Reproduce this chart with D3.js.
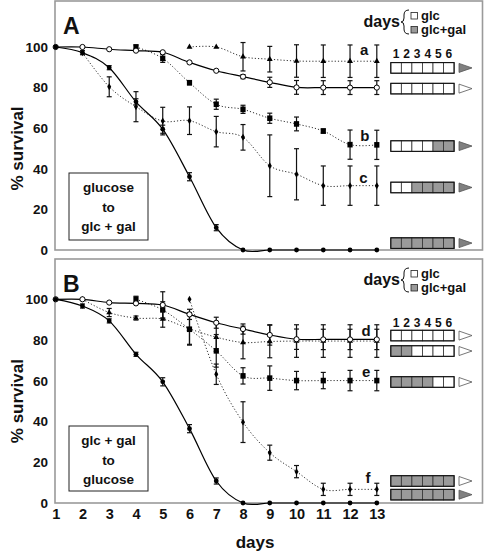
<!DOCTYPE html>
<html><head><meta charset="utf-8">
<script src="https://cdn.jsdelivr.net/npm/d3@7"></script>
<style>
body{margin:0;background:#fff;}
svg text{font-family:"Liberation Sans",Arial,Helvetica,sans-serif;font-weight:bold;fill:#111;}
</style></head>
<body><svg id="c" width="486" height="552"></svg>
<script>
const days = [1,2,3,4,5,6,7,8,9,10,11,12,13];
const yTicks = [0,20,40,60,80,100];

// Panel A series (value per day, null = absent), errors
const A_glcDecline = [100,97.2,89.8,73,59.5,36.1,11,0,0,0,0,0,0];
const A_glcDeclineErr = [0,1,1,1.5,2,2,1.5,0,0,0,0,0,0];
const A_glcOpen = [100,100,98.9,98.2,97.4,92.4,88.3,85.4,82.6,80.1,80,80,80];
const A_glcOpenErr = [0,0,0,0,0,0,0,1,2.5,3.4,3.4,3.4,3.4];
const A_a = [null,null,null,null,null,100,100,95.2,94,93.1,93,93,93];
const A_aErr = [0,0,0,0,0,0,0,7,6.3,8,8,8,8];
const A_b = [null,null,null,100,94.4,82.4,71.8,69.3,64.9,62.1,58.6,51.9,51.8];
const A_bErr = [0,0,0,1,2,1,2.5,2,2.5,3.4,1,7.2,7.2];
const A_c = [null,97.2,80.4,70.6,63.5,63.7,58.3,55.5,41.5,37.3,31.7,31.7,31.7];
const A_cErr = [0,0,4.9,7.4,6.8,6.8,7.5,6.3,15.2,12.6,9.7,9.7,9.7];

// Panel B series
const B_glcDecline = [100,96.7,89.4,73,59.5,36.5,10.8,0,0,0,0,0,0];
const B_glcDeclineErr = [0,1,1,1,2,2,1.5,0,0,0,0,0,0];
const B_glcOpen = [100,100,98.4,98,97.2,92.6,88.5,85.4,82.5,80.4,80.3,80.3,80.3];
const B_glcOpenErr = [0,0,0,0,6.5,2.5,2.7,2.5,5,5,5,5,5];
const B_d = [null,100,93.5,90.8,90.3,85.5,81.4,78.8,79.3,79.5,79.5,79.5,79.5];
const B_dErr = [0,0,2,1,4,8,7,8,8,8,8,8,8];
const B_e = [null,null,null,100,94.8,85.3,74.7,62.4,61.3,60.1,60.1,60.1,60.1];
const B_eErr = [0,0,0,1.5,4,7.4,8,4,6,4.5,4,5,5];
const B_f = [null,null,null,null,null,100,63.2,39.7,24.7,15.4,6.7,6.7,6.7];
const B_fErr = [0,0,0,0,0,0,5,10,3.7,3,3,3,3];

// legend rows: cell pattern (1 = glc+gal gray), triangle fill (1 = gray)
const A_rows = [
  {cells:[0,0,0,0,0,0], tri:1, v:89.7},
  {cells:[0,0,0,0,0,0], tri:0, v:79.5},
  {cells:[0,0,0,0,1,1], tri:1, v:51.2},
  {cells:[0,0,1,1,1,1], tri:1, v:30.8},
  {cells:[1,1,1,1,1,1], tri:1, v:3.4}
];
const B_rows = [
  {cells:[0,0,0,0,0,0], tri:0, v:82.2},
  {cells:[1,1,0,0,0,0], tri:0, v:74.6},
  {cells:[1,1,1,1,0,0], tri:0, v:59.4},
  {cells:[1,1,1,1,1,1], tri:0, v:10.8},
  {cells:[1,1,1,1,1,1], tri:1, v:4.1}
];
const A_labels = [{t:"a",d:12.53,v:96},{t:"b",d:12.55,v:53.7},{t:"c",d:12.5,v:33}];
const B_labels = [{t:"d",d:12.6,v:81.8},{t:"e",d:12.6,v:62},{t:"f",d:12.67,v:10}];

const svg = d3.select("#c");
const x = d3.scaleLinear().domain([1,13]).range([55.7,376.8]);
const GRAY = "#9a9a9a";

function panel(cfg){
  const y = d3.scaleLinear().domain([0,100]).range([cfg.y0, cfg.y100]);
  const g = svg.append("g");
  // frame
  g.append("rect").attr("x",55).attr("y",cfg.top).attr("width",427.5).attr("height",cfg.y0-cfg.top)
    .attr("fill","none").attr("stroke",GRAY).attr("stroke-width",1.6);
  // y axis
  const ya = d3.axisLeft(y).tickValues(yTicks).tickSize(0).tickPadding(7);
  const yg = g.append("g").attr("transform","translate(55,0)").call(ya);
  yg.select(".domain").remove();
  yg.selectAll("text").style("font-size","13.5px").attr("fill","#111");
  // y label
  g.append("text").attr("transform",`translate(23,${(cfg.y0+cfg.y100)/2}) rotate(-90)`)
    .attr("text-anchor","middle").style("font-size","17px").text("% survival");
  // panel letter
  g.append("text").attr("x",63).attr("y",cfg.top+33).style("font-size","23px").text(cfg.letter);
  // text box
  const tb = g.append("g");
  tb.append("rect").attr("x",69).attr("y",cfg.boxTop).attr("width",79).attr("height",cfg.boxH)
    .attr("fill","#fff").attr("stroke","#222").attr("stroke-width",1);
  cfg.boxLines.forEach((s,i)=>{
    tb.append("text").attr("x",108.5).attr("y",cfg.boxTop+19+i*19.5).attr("text-anchor","middle")
      .style("font-size","13.5px").text(s);
  });

  const line = d3.line().defined(d=>d.v!==null).x(d=>x(d.d)).y(d=>y(d.v)).curve(d3.curveCardinal.tension(0));
  function series(vals, errs, marker, dotted){
    const data = days.map((d,i)=>({d, v:vals[i], e:errs[i]}));
    g.append("path").datum(data).attr("d",line).attr("fill","none")
      .attr("stroke", dotted ? "#333" : "#000").attr("stroke-width", dotted?1:1.2)
      .attr("stroke-dasharray", dotted ? "1.2,2" : null);
    const pts = data.filter(d=>d.v!==null);
    const eb = g.append("g").attr("stroke","#111").attr("stroke-width",1.2);
    pts.filter(d=>d.e>0.8).forEach(d=>{
      const X=x(d.d), y1=y(d.v+d.e), y2=y(d.v-d.e);
      eb.append("line").attr("x1",X).attr("x2",X).attr("y1",y1).attr("y2",y2);
      eb.append("line").attr("x1",X-2.5).attr("x2",X+2.5).attr("y1",y1).attr("y2",y1);
      eb.append("line").attr("x1",X-2.5).attr("x2",X+2.5).attr("y1",y2).attr("y2",y2);
    });
    const mg = g.append("g");
    pts.forEach(d=>{
      const X=x(d.d), Y=y(d.v);
      if(marker==="dot") mg.append("circle").attr("cx",X).attr("cy",Y).attr("r",2.4).attr("fill","#000");
      else if(marker==="open") mg.append("circle").attr("cx",X).attr("cy",Y).attr("r",2.6).attr("fill","#fff").attr("stroke","#000").attr("stroke-width",1);
      else if(marker==="square") mg.append("rect").attr("x",X-2.6).attr("y",Y-2.8).attr("width",5.2).attr("height",5.6).attr("fill","#000");
      else if(marker==="tri") mg.append("path").attr("d",d3.symbol(d3.symbolTriangle,15)()).attr("transform",`translate(${X},${Y})`).attr("fill","#000");
      else if(marker==="diamond") mg.append("path").attr("d",d3.symbol(d3.symbolDiamond,14)()).attr("transform",`translate(${X},${Y})`).attr("fill","#000");
    });
  }
  cfg.series.forEach(s=>series(...s));

  // curve labels
  cfg.labels.forEach(l=>{
    g.append("text").attr("x",x(l.d)).attr("y",y(l.v)).attr("text-anchor","middle").style("font-size","15px").text(l.t);
  });

  // legend: days { glc / glc+gal
  const lg = g.append("g");
  const lt = cfg.top;
  lg.append("text").attr("x",400).attr("y",lt+26).attr("text-anchor","end").style("font-size","16px").text("days");
  lg.append("path").attr("d",`M409,${lt+9} Q404,${lt+9} 404,${lt+14} L404,${lt+17} Q404,${lt+21} 401,${lt+21} Q404,${lt+21} 404,${lt+25} L404,${lt+28} Q404,${lt+33} 409,${lt+33}`)
    .attr("fill","none").attr("stroke","#111").attr("stroke-width",1);
  lg.append("rect").attr("x",411).attr("y",lt+11.5).attr("width",6.5).attr("height",6.5).attr("fill","#fff").attr("stroke","#222").attr("stroke-width",0.8);
  lg.append("text").attr("x",421).attr("y",lt+18.5).style("font-size","13px").text("glc");
  lg.append("rect").attr("x",411).attr("y",lt+25.5).attr("width",6.5).attr("height",6.5).attr("fill",GRAY).attr("stroke","#222").attr("stroke-width",0.8);
  lg.append("text").attr("x",421).attr("y",lt+32.5).style("font-size","13px").text("glc+gal");
  // numbers 1..6
  const cw = 10.55, cx0 = 390.8;
  [1,2,3,4,5,6].forEach((n,i)=>{
    lg.append("text").attr("x",cx0+cw*i+cw/2).attr("y",cfg.numY).attr("text-anchor","middle").style("font-size","12px").text(n);
  });
  cfg.rows.forEach(r=>{
    const cy = y(r.v);
    r.cells.forEach((c,i)=>{
      lg.append("rect").attr("x",cx0+cw*i).attr("y",cy-5.3).attr("width",cw).attr("height",10.6)
        .attr("fill",c?GRAY:"#fff").attr("stroke","#333").attr("stroke-width",0.8);
    });
    lg.append("rect").attr("x",cx0).attr("y",cy-5.3).attr("width",cw*6).attr("height",10.6)
      .attr("fill","none").attr("stroke","#111").attr("stroke-width",1.1);
    lg.append("path").attr("d",`M459,${cy-4.5} L472,${cy} L459,${cy+4.5} Z`)
      .attr("fill",r.tri?"#808080":"#fff").attr("stroke","#555").attr("stroke-width",0.8);
  });
  return y;
}

panel({letter:"A", top:1, y0:250, y100:47, boxTop:173, boxH:67,
  boxLines:["glucose","to","glc + gal"], numY:57.5, rows:A_rows, labels:A_labels,
  series:[[A_a,A_aErr,"tri",true],[A_b,A_bErr,"square",true],[A_c,A_cErr,"diamond",true],
          [A_glcOpen,A_glcOpenErr,"open",false],[A_glcDecline,A_glcDeclineErr,"dot",false]]});

panel({letter:"B", top:259, y0:503, y100:299.3, boxTop:426, boxH:65,
  boxLines:["glc + gal","to","glucose"], numY:327, rows:B_rows, labels:B_labels,
  series:[[B_d,B_dErr,"tri",true],[B_e,B_eErr,"square",true],[B_f,B_fErr,"diamond",true],
          [B_glcOpen,B_glcOpenErr,"open",false],[B_glcDecline,B_glcDeclineErr,"dot",false]]});

// x axis (bottom)
const xa = d3.axisBottom(x).tickValues(days).tickSize(0).tickPadding(6).tickFormat(d3.format("d"));
const xg = svg.append("g").attr("transform","translate(0,503)").call(xa);
xg.select(".domain").remove();
xg.selectAll("text").style("font-size","14.5px").attr("fill","#111");
svg.append("text").attr("x",255).attr("y",548).attr("text-anchor","middle").style("font-size","17px").text("days");
</script></body></html>
